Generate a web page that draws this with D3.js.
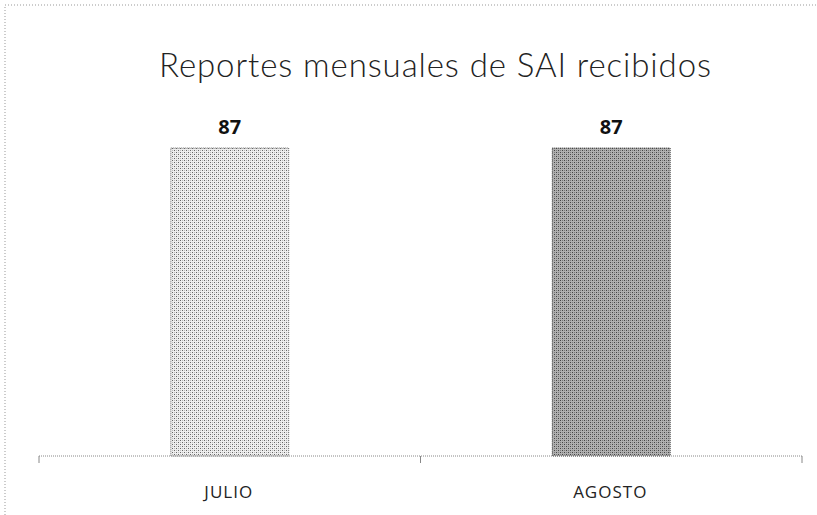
<!DOCTYPE html>
<html><head><meta charset="utf-8">
<script src="https://cdn.jsdelivr.net/npm/d3@7"></script>
<style>body{margin:0;background:#fff}</style>
</head><body>
<svg id="c" width="817" height="515"></svg>
<script>
const categories = ["JULIO", "AGOSTO"];
const values = [87, 87];
const title = "Reportes mensuales de SAI recibidos";

const svg = d3.select("#c");
const W = 817, H = 515;
const m = {left: 39, right: 15, top: 102, bottom: 59};
const defs = svg.append("defs");

function makePattern(id, bg, dot, dot2) {
  const p = defs.append("pattern").attr("id", id).attr("patternUnits", "userSpaceOnUse")
    .attr("width", 4).attr("height", 4);
  p.append("rect").attr("width", 4).attr("height", 4).attr("fill", bg);
  p.append("rect").attr("x", 0).attr("y", 0).attr("width", 1).attr("height", 1).attr("fill", dot);
  p.append("rect").attr("x", 2).attr("y", 2).attr("width", 1).attr("height", 1).attr("fill", dot);
  p.append("rect").attr("x", 2).attr("y", 0).attr("width", 1).attr("height", 1).attr("fill", dot2);
  p.append("rect").attr("x", 0).attr("y", 2).attr("width", 1).attr("height", 1).attr("fill", dot2);
}
makePattern("p0", "#eeeeee", "#666", "#bbb");
makePattern("p1", "#b0b0b0", "#444", "#7a7a7a");

// chart border (dotted)
svg.append("path").attr("d", `M5,${H} V5 H${W}`).attr("fill", "none")
  .attr("stroke", "#999").attr("stroke-width", 1).attr("stroke-dasharray", "1,2");

svg.append("text").attr("x", 435).attr("y", 77).attr("text-anchor", "middle")
  .attr("font-family", "Lato, 'Noto Sans', sans-serif").attr("font-weight", 300)
  .attr("font-size", 33).attr("fill", "#222")
  .attr("textLength", 552).attr("lengthAdjust", "spacing").text(title);

const x = d3.scaleBand().domain(categories).range([m.left, W - m.right]).paddingInner(0.691).paddingOuter(0.3455);
const baseY = H - m.bottom;
const y = d3.scaleLinear().domain([0, 100]).range([baseY, baseY - 308 / 0.87]);

svg.selectAll(".bar").data(values).join("rect")
  .attr("x", (d, i) => x(categories[i])).attr("width", x.bandwidth())
  .attr("y", d => y(d)).attr("height", d => baseY - y(d))
  .attr("fill", (d, i) => `url(#p${i})`)
  .attr("stroke", (d, i) => i ? "#444" : "#777").attr("stroke-width", 1).attr("stroke-dasharray", "1,1");

svg.selectAll(".lbl").data(values).join("text")
  .attr("x", (d, i) => x(categories[i]) + x.bandwidth() / 2).attr("y", d => y(d) - 14)
  .attr("text-anchor", "middle").attr("font-family", "'Open Sans', sans-serif")
  .attr("font-weight", "bold").attr("font-size", 20).attr("fill", "#111").text(d => d);

// axis
const axisBand = d3.scaleBand().domain(categories).range([m.left, W - m.right]);
const ax = svg.append("g").attr("transform", `translate(0,${baseY})`);
ax.append("line").attr("x1", m.left).attr("x2", W - m.right).attr("stroke", "#888")
  .attr("stroke-dasharray", "1,1");
const tickXs = [m.left, axisBand("AGOSTO"), W - m.right];
ax.selectAll(".tk").data(tickXs).join("line").attr("x1", d => d).attr("x2", d => d)
  .attr("y1", 0).attr("y2", 7).attr("stroke", "#888");
ax.selectAll(".cl").data(categories).join("text")
  .attr("x", d => x(d) + x.bandwidth() / 2 - 1).attr("y", 42).attr("text-anchor", "middle")
  .attr("font-family", "'Open Sans', sans-serif").attr("font-size", 17).attr("fill", "#222")
  .attr("letter-spacing", 1)
  .text(d => d);
</script>
</body></html>
